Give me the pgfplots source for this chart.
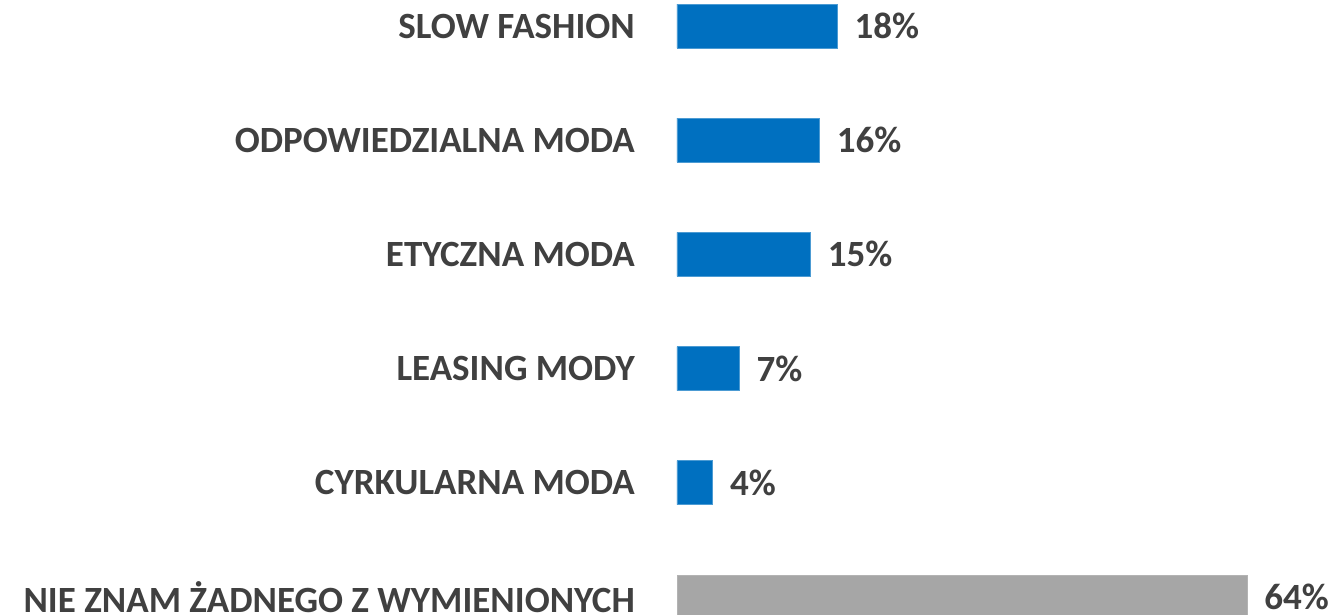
\documentclass[border=0pt]{standalone}
\usepackage{fontspec}
\setmainfont{Carlito}
\usepackage{pgfplots}
\pgfplotsset{compat=1.18}
\definecolor{barblue}{HTML}{0070C0}
\definecolor{bargray}{HTML}{A6A6A6}
\definecolor{txt}{HTML}{404040}
\begin{document}
\begin{tikzpicture}
\begin{axis}[
  scale only axis,
  width=570pt, height=615pt,
  xmin=0, xmax=64,
  ymin=-0.228, ymax=5.158,
  y dir=reverse,
  axis line style={draw=none},
  xtick=\empty,
  ytick={0,1,2,3,4,5},
  yticklabels={SLOW FASHION,ODPOWIEDZIALNA MODA,ETYCZNA MODA,LEASING MODY,CYRKULARNA MODA,NIE ZNAM ŻADNEGO Z WYMIENIONYCH},
  major tick length=0pt,
  /pgf/number format/assume math mode=true,
  yticklabel style={font=\fontsize{37}{40}\selectfont\bfseries, text=txt, anchor=east, inner sep=0pt, xshift=-42pt},
  xbar, bar width=44pt,
  bar shift=0pt,
  nodes near coords={\pgfmathprintnumber{\pgfplotspointmeta}\%},
  nodes near coords style={font=\fontsize{37}{40}\selectfont\bfseries, text=txt, anchor=west, inner sep=0pt, xshift=17pt},
  point meta=x,
  clip=false,
]
\addplot[fill=barblue, draw=barblue!70!white, line width=0.8pt] coordinates {(18,0) (16,1) (15,2) (7,3) (4,4)};
\addplot[fill=bargray, draw=bargray!85!white, line width=0.8pt] coordinates {(64,5)};
\coordinate (P1) at (axis cs:-76.02,-0.228);
\coordinate (P2) at (axis cs:74.0,5.158);
\end{axis}
\pgfresetboundingbox
\useasboundingbox (P1) rectangle (P2);
\end{tikzpicture}
\end{document}
